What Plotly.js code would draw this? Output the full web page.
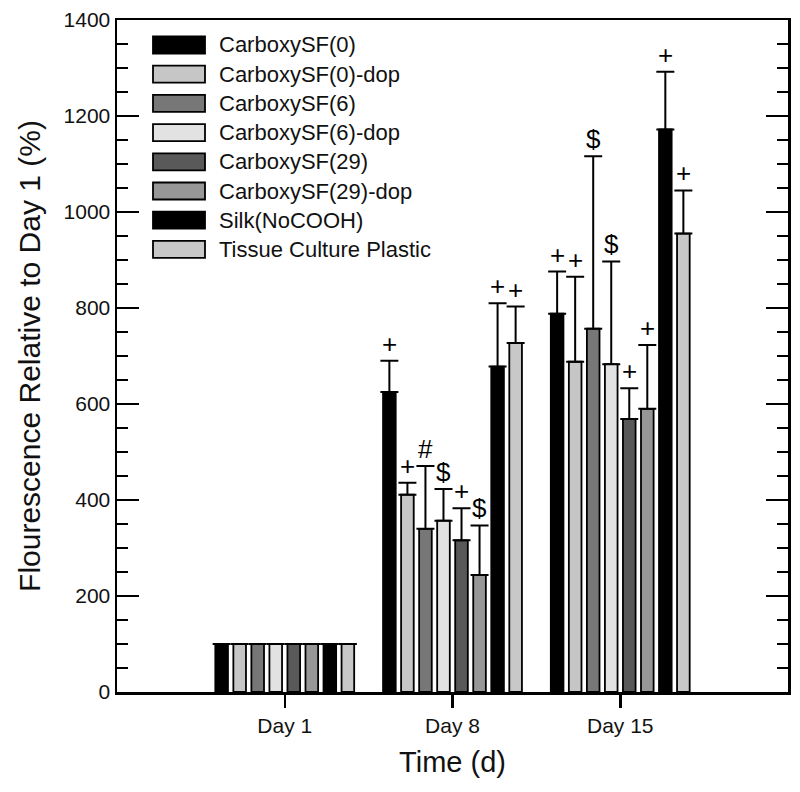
<!DOCTYPE html>
<html>
<head>
<meta charset="utf-8">
<script src="https://cdn.plot.ly/plotly-3.0.1.min.js"></script>
<style>html,body{margin:0;padding:0;background:#fff;}#chart{width:800px;height:792px;}</style>
</head>
<body>
<div id="chart"></div>
<script>
// ---- data ----
const days = ['Day 1', 'Day 8', 'Day 15'];
const seriesNames = ['CarboxySF(0)', 'CarboxySF(0)-dop', 'CarboxySF(6)', 'CarboxySF(6)-dop',
                     'CarboxySF(29)', 'CarboxySF(29)-dop', 'Silk(NoCOOH)', 'Tissue Culture Plastic'];
const seriesColors = ['#000000', '#c6c6c6', '#777777', '#e2e2e2', '#595959', '#979797', '#000000', '#c8c8c8'];

const csf0      = [100, 625, 788];
const csf0Dop   = [100, 411, 688];
const csf6      = [100, 340, 757];
const csf6Dop   = [100, 357, 683];
const csf29     = [100, 316, 569];
const csf29Dop  = [100, 244, 590];
const silk      = [100, 678, 1172];
const tcp       = [100, 727, 955];

const csf0Err     = [NaN, 65, 88];
const csf0DopErr  = [NaN, 25, 177];
const csf6Err     = [NaN, 131, 359];
const csf6DopErr  = [NaN, 66, 214];
const csf29Err    = [NaN, 67, 64];
const csf29DopErr = [NaN, 103, 133];
const silkErr     = [NaN, 132, 120];
const tcpErr      = [NaN, 76, 90];

// significance marks per series, per day
const csf0Marks     = ['', '+', '+'];
const csf0DopMarks  = ['', '+', '+'];
const csf6Marks     = ['', '#', '$'];
const csf6DopMarks  = ['', '$', '$'];
const csf29Marks    = ['', '+', '+'];
const csf29DopMarks = ['', '$', '+'];
const silkMarks     = ['', '+', '+'];
const tcpMarks      = ['', '+', '+'];

const yTickVals = [0, 200, 400, 600, 800, 1000, 1200, 1400];

// ---- build ----
const values = [csf0, csf0Dop, csf6, csf6Dop, csf29, csf29Dop, silk, tcp];
const errors = [csf0Err, csf0DopErr, csf6Err, csf6DopErr, csf29Err, csf29DopErr, silkErr, tcpErr];
const marks  = [csf0Marks, csf0DopMarks, csf6Marks, csf6DopMarks, csf29Marks, csf29DopMarks, silkMarks, tcpMarks];

const BARGAP = 0.14, GROUPGAP = 0.3;
const FONT = 'Arial, "Liberation Sans", Helvetica, sans-serif';

const traces = seriesNames.map((name, i) => ({
  type: 'bar',
  name: name,
  x: days,
  y: values[i],
  marker: {color: seriesColors[i], line: {color: '#000', width: 1.8}},
  error_y: {type: 'data', symmetric: false, array: errors[i], arrayminus: errors[i].map(() => 0),
            color: '#000', thickness: 2, width: 9},
  showlegend: false
}));

const nS = seriesNames.length;
const slot = (1 - BARGAP) / nS;
const annotations = [];
marks.forEach((mk, i) => {
  mk.forEach((m, d) => {
    if (!m) return;
    const top = values[i][d] + (isNaN(errors[i][d]) ? 0 : errors[i][d]);
    annotations.push({
      x: d + (i - (nS - 1) / 2) * slot, y: top, xref: 'x', yref: 'y',
      text: m, showarrow: false, yanchor: 'bottom', yshift: 0,
      font: {family: FONT, size: 26, color: '#000'}
    });
  });
});

// custom legend (wide rectangular keys as in the original)
const plotL = 117, plotW = 671, plotT = 20, plotH = 672;
const px2x = p => (p - plotL) / plotW;
const px2y = p => 1 - (p - plotT) / plotH;
const shapes = [];
seriesNames.forEach((name, i) => {
  const cy = 45 + i * 29.2;
  shapes.push({type: 'rect', xref: 'paper', yref: 'paper',
    x0: px2x(153), x1: px2x(205), y0: px2y(cy + 8.5), y1: px2y(cy - 8.5),
    fillcolor: seriesColors[i], line: {color: '#000', width: 1.8}});
  annotations.push({xref: 'paper', yref: 'paper', x: px2x(217), y: px2y(cy),
    xanchor: 'left', yanchor: 'middle', showarrow: false, text: name,
    font: {family: FONT, size: 22, color: '#111'}});
});

const layout = {
  width: 800, height: 792,
  margin: {l: 117, r: 12, t: 20, b: 100},
  paper_bgcolor: '#fff', plot_bgcolor: '#fff',
  barmode: 'group', bargap: BARGAP, bargroupgap: GROUPGAP,
  showlegend: false,
  font: {family: FONT, color: '#111'},
  xaxis: {
    type: 'category', range: [-1, 3],
    showline: true, linecolor: '#000', linewidth: 2.5, mirror: true,
    ticks: 'outside', ticklen: 13, tickwidth: 2.5, tickcolor: '#000',
    tickfont: {family: FONT, size: 21, color: '#111'},
    showgrid: false, zeroline: false,
    title: {text: 'Time (d)', font: {family: FONT, size: 29, color: '#111'}, standoff: 16}
  },
  yaxis: {
    range: [0, 1400], tickvals: yTickVals,
    showline: true, linecolor: '#000', linewidth: 2.5, mirror: 'ticks',
    ticks: 'inside', ticklen: 22, tickwidth: 2.5, tickcolor: '#000',
    minor: {dtick: 50, ticks: 'inside', ticklen: 11, tickwidth: 2.5, tickcolor: '#000', showgrid: false},
    tickfont: {family: FONT, size: 21, color: '#111'},
    showgrid: false, zeroline: false,
    title: {text: 'Flourescence Relative to Day 1 (%)', font: {family: FONT, size: 30, color: '#111'}, standoff: 14}
  },
  shapes: shapes,
  annotations: annotations
};

Plotly.newPlot('chart', traces, layout, {displayModeBar: false, staticPlot: true});
</script>
</body>
</html>
